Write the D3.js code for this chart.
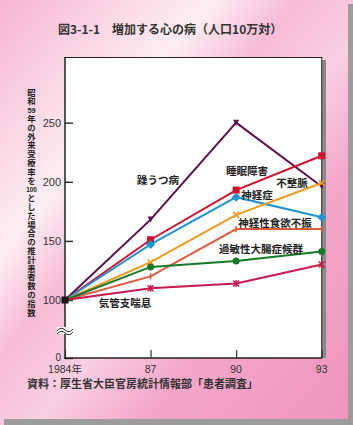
<!DOCTYPE html>
<html><head><meta charset="utf-8">
<script src="https://cdn.jsdelivr.net/npm/d3@7/dist/d3.min.js"></script>
<style>body{margin:0;padding:0;overflow:hidden}svg{display:block}</style>
</head><body>
<script>
const years = ["1984", "87", "90", "93"];
const xLabels = ["1984年", "87", "90", "93"];
const yTicks = [0, 100, 150, 200, 250];
const seriesNames = ["躁うつ病", "睡眠障害", "神経症", "不整脈", "神経性食欲不振", "過敏性大腸症候群", "気管支喘息"];
const manicDepression = [100, 168, 250, 196];
const sleepDisorder = [100, 151, 193, 222];
const neurosis = [100, 147, 187, 170];
const arrhythmia = [100, 132, 172, 199];
const anorexia = [100, 120, 160, 160];
const ibs = [100, 128, 133, 141];
const asthma = [100, 110, 114, 130];
const seriesValues = [manicDepression, sleepDisorder, neurosis, arrhythmia, anorexia, ibs, asthma];
const seriesColors = ["#5c0f4c", "#d0102c", "#1e94d4", "#f29a1e", "#e05a3e", "#17782a", "#c81a4c"];
const seriesMarkers = ["triangle", "square", "diamond", "cross", "tick", "circle", "star"];
const labelPos = [[158,180],[247,171],[257,195],[292,183],[275,223],[261,249],[125,303]];
const yLabelChars = ["昭","和","59","年","の","外","来","受","療","率","を","100","と","し","た","場","合","の","推","計","患","者","数","の","指","数"];

const W = 353, H = 425;
const svg = d3.select("body").append("svg").attr("width", W).attr("height", H);
const defs = svg.append("defs");
const g = defs.append("linearGradient").attr("id","bg").attr("x1","0").attr("y1","0").attr("x2","1").attr("y2","1");
[[0,"#f6b4d0"],[0.18,"#fbd8e6"],[0.3,"#fdeef4"],[0.42,"#f7bcd6"],[0.55,"#f9cfe1"],[0.7,"#f3a6c8"],[1,"#ef94bd"]]
  .forEach(([o,c]) => g.append("stop").attr("offset", o).attr("stop-color", c));

svg.append("rect").attr("width", W).attr("height", H).attr("fill", "url(#bg)");
svg.append("rect").attr("x", 348).attr("y", 4).attr("width", 5).attr("height", H).attr("fill", "#9c9c9c");
svg.append("rect").attr("x", 4).attr("y", 419).attr("width", W).attr("height", 6).attr("fill", "#9c9c9c");

const x = d3.scalePoint().domain(years).range([65, 321.7]);
const y = d3.scaleLinear().domain([0, 100, 250]).range([358, 300, 122.7]);

svg.append("rect").attr("x", 322).attr("y", 60).attr("width", 4).attr("height", 298).attr("fill", "#8a8a8a");
svg.append("rect").attr("x", 65).attr("y", 57).attr("width", 257).attr("height", 301).attr("fill", "#ffffff");
svg.append("line").attr("x1", 65).attr("x2", 322).attr("y1", 57.5).attr("y2", 57.5).attr("stroke", "#222").attr("stroke-width", 1);
svg.append("line").attr("x1", 321.7).attr("x2", 321.7).attr("y1", 57).attr("y2", 358).attr("stroke", "#222").attr("stroke-width", 1);

const yAxis = d3.axisRight(y).tickValues(yTicks).tickSize(8).tickFormat("");
const ya = svg.append("g").attr("transform", "translate(65,0)").call(yAxis);
ya.select(".domain").remove();
ya.selectAll(".tick line").attr("stroke", "#333").attr("stroke-width", 1.5);
svg.append("line").attr("x1", 65).attr("x2", 65).attr("y1", 57).attr("y2", 359).attr("stroke", "#222").attr("stroke-width", 1.5);
svg.append("line").attr("x1", 64).attr("x2", 322).attr("y1", 358).attr("y2", 358).attr("stroke", "#222").attr("stroke-width", 1.5);
svg.selectAll(".ytl").data(yTicks).enter().append("text")
  .attr("x", 61).attr("y", d => y(d) + (d === 0 ? 2.5 : 4)).attr("text-anchor", "end")
  .attr("font-family", "Liberation Sans, Arial, sans-serif").attr("font-size", d => d === 0 ? 10 : 11).attr("fill", "#333").text(d => d);

const xAxis = d3.axisTop(x).tickSize(8).tickFormat("");
const xa = svg.append("g").attr("transform", "translate(0,358)").call(xAxis);
xa.select(".domain").remove();
xa.selectAll(".tick line").attr("stroke", "#333").attr("stroke-width", 1.2);
svg.selectAll(".xtl").data(years).enter().append("text")
  .attr("x", d => x(d)).attr("y", 373).attr("text-anchor", "middle")
  .attr("font-family", "Liberation Sans, 'Noto Sans CJK JP', sans-serif").attr("font-size", 10.5).attr("fill", "#333")
  .text((d, i) => xLabels[i]);

svg.append("rect").attr("x", 57).attr("y", 327).attr("width", 16).attr("height", 7).attr("fill", "#ffffff");
svg.append("path").attr("d", "M57,331 q4,-5 8,-1 q4,4 8,-1").attr("fill", "none").attr("stroke", "#333").attr("stroke-width", 1);
svg.append("path").attr("d", "M57,334 q4,-5 8,-1 q4,4 8,-1").attr("fill", "none").attr("stroke", "#333").attr("stroke-width", 1);

const line = d3.line().x((d, i) => x(years[i])).y(d => y(d));
seriesValues.forEach((vals, si) => {
  const c = seriesColors[si];
  svg.append("path").datum(vals).attr("d", line).attr("fill", "none").attr("stroke", c).attr("stroke-width", 2);
  vals.forEach((v, i) => {
    if (i === 0) return;
    const cx = x(years[i]), cy = y(v), m = seriesMarkers[si];
    if (m === "square") svg.append("rect").attr("x", cx - 3.5).attr("y", cy - 3.5).attr("width", 7).attr("height", 7).attr("fill", c);
    else if (m === "circle") svg.append("circle").attr("cx", cx).attr("cy", cy).attr("r", 3.5).attr("fill", c);
    else if (m === "diamond") svg.append("path").attr("d", `M${cx},${cy-4.5}L${cx+4.5},${cy}L${cx},${cy+4.5}L${cx-4.5},${cy}Z`).attr("fill", c);
    else if (m === "triangle") svg.append("path").attr("d", `M${cx-3},${cy-3}L${cx+3},${cy-3}L${cx},${cy+3}Z`).attr("fill", c);
    else if (m === "cross") svg.append("path").attr("d", `M${cx-3},${cy-3}L${cx+3},${cy+3}M${cx+3},${cy-3}L${cx-3},${cy+3}`).attr("stroke", c).attr("stroke-width", 1.5);
    else if (m === "tick") svg.append("path").attr("d", `M${cx},${cy-3}L${cx},${cy+3}`).attr("stroke", c).attr("stroke-width", 1.5);
    else if (m === "star") svg.append("path").attr("d", `M${cx-3},${cy-3}L${cx+3},${cy+3}M${cx+3},${cy-3}L${cx-3},${cy+3}M${cx},${cy-3.5}L${cx},${cy+3.5}`).attr("stroke", c).attr("stroke-width", 1.5);
  });
});
svg.append("rect").attr("x", x(years[0]) - 3.5).attr("y", y(100) - 3.5).attr("width", 7).attr("height", 7).attr("fill", "#111");

svg.selectAll(".sl").data(seriesNames).enter().append("text")
  .attr("x", (d, i) => labelPos[i][0]).attr("y", (d, i) => labelPos[i][1] + 4)
  .attr("text-anchor", "middle").attr("font-family", "'Noto Sans CJK JP', sans-serif")
  .attr("font-size", 10.5).attr("font-weight", "bold").attr("fill", "#222").text(d => d);

svg.append("text").attr("x", 58).attr("y", 34).attr("font-family", "'Noto Sans CJK JP', sans-serif")
  .attr("font-size", 12).attr("font-weight", "bold").attr("fill", "#333").attr("xml:space", "preserve")
  .text("図3-1-1　増加する心の病（人口10万対）");

svg.append("text").attr("x", 27).attr("y", 388).attr("font-family", "'Noto Sans CJK JP', sans-serif")
  .attr("font-size", 11).attr("font-weight", "bold").attr("fill", "#333")
  .text("資料：厚生省大臣官房統計情報部「患者調査」");

// vertical y label: each CJK char set vertically, numbers horizontally in one cell
const slot = 8.8, top0 = 88, colX = 31.5;
yLabelChars.forEach((ch, i) => {
  const t = top0 + i * slot;
  if (/^\d+$/.test(ch)) {
    svg.append("text").attr("x", colX).attr("y", t + slot / 2 + 2.7)
      .attr("text-anchor", "middle").attr("font-family", "Liberation Sans, Arial, sans-serif")
      .attr("font-size", 7.4).attr("font-weight", "bold").attr("fill", "#222")
      .attr("textLength", ch.length > 2 ? 10.5 : null).attr("lengthAdjust", "spacingAndGlyphs")
      .text(ch);
  } else {
    svg.append("text").attr("x", colX).attr("y", t + 0.2)
      .style("writing-mode", "vertical-rl")
      .attr("font-family", "'Noto Sans CJK JP', sans-serif")
      .attr("font-size", 8.4).attr("font-weight", "bold").attr("fill", "#222")
      .text(ch);
  }
});
</script>
</body></html>
